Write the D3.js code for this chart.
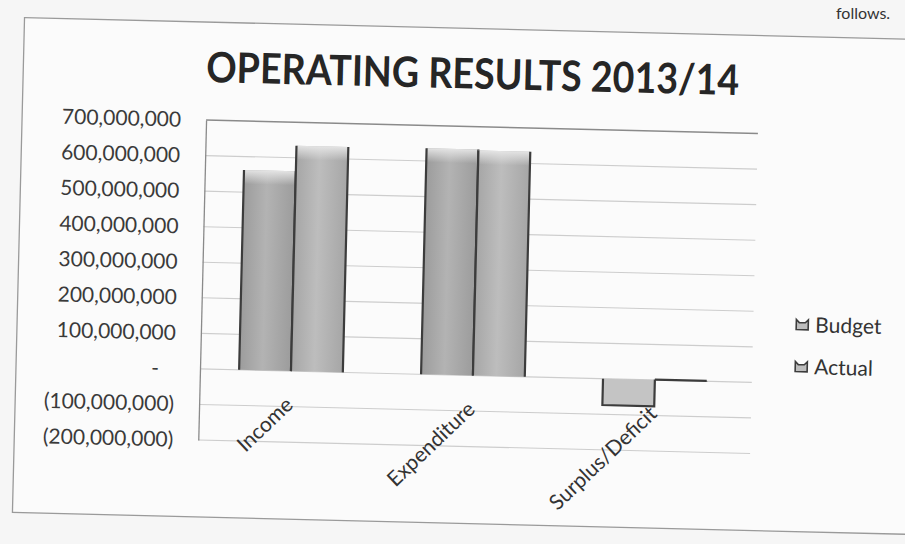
<!DOCTYPE html>
<html><head><meta charset="utf-8">
<script src="https://cdn.jsdelivr.net/npm/d3@7"></script>
<style>
html,body{margin:0;padding:0;background:#f5f5f5;}
svg{display:block;}
text{font-family:Lato,"Open Sans",sans-serif;}
</style></head><body>
<svg id="chart" width="905" height="544"></svg>
<script>
// ---- data ----
const categories = ["Income", "Expenditure", "Surplus/Deficit"];
const seriesNames = ["Budget", "Actual"];
const budget = [562000000, 636000000, -74000000];
const actual = [634000000, 633000000, 1000000];
const tickValues = [-200000000, -100000000, 0, 100000000, 200000000, 300000000, 400000000, 500000000, 600000000, 700000000];
const tickLabels = ["(200,000,000)", "(100,000,000)", "-", "100,000,000", "200,000,000", "300,000,000", "400,000,000", "500,000,000", "600,000,000", "700,000,000"];
const titleText = "OPERATING RESULTS 2013/14";

// ---- setup ----
const svg = d3.select("#chart");
const W = 905, H = 544;
svg.append("rect").attr("width", W).attr("height", H).attr("fill", "#f6f6f6");

const defs = svg.append("defs");
function hGrad(id, edge, mid) {
  const g = defs.append("linearGradient").attr("id", id).attr("x1", 0).attr("x2", 1).attr("y1", 0).attr("y2", 0);
  g.append("stop").attr("offset", "0%").attr("stop-color", edge);
  g.append("stop").attr("offset", "45%").attr("stop-color", mid);
  g.append("stop").attr("offset", "100%").attr("stop-color", edge);
}
hGrad("gBudget", "#9c9c9c", "#b3b3b3");
hGrad("gActual", "#a6a6a6", "#bdbdbd");
const tg = defs.append("linearGradient").attr("id", "gTop").attr("x1", 0).attr("x2", 0).attr("y1", 0).attr("y2", 1);
tg.append("stop").attr("offset", "0%").attr("stop-color", "#e6e6e6").attr("stop-opacity", 0.95);
tg.append("stop").attr("offset", "100%").attr("stop-color", "#e6e6e6").attr("stop-opacity", 0);

// document text fragment above the chart (scan)
svg.append("text").attr("x", 836).attr("y", 19).attr("font-size", 16).attr("fill", "#333").text("follows.");

const root = svg.append("g").attr("transform", "rotate(1.4,200,369)");

// outer chart frame
root.append("rect").attr("x", 16).attr("y", 22).attr("width", 1000).attr("height", 495)
  .attr("fill", "#fbfbfb").attr("stroke", "#9a9a9a").attr("stroke-width", 1.3);

// title
root.append("text").attr("x", 199).attr("y", 82)
  .attr("font-size", 42).attr("font-weight", 700).attr("fill", "#262626")
  .attr("textLength", 533).attr("lengthAdjust", "spacingAndGlyphs")
  .text(titleText);

// scales
const plotL = 200, plotR = 746, plotT = 120, plotB = 440;
const y = d3.scaleLinear().domain([-200000000, 700000000]).range([plotB, plotT]);
const x0 = d3.scaleBand().domain(categories).range([plotL, plotR]).paddingInner(0.43).paddingOuter(0.215);
const x1 = d3.scaleBand().domain(seriesNames).range([0, x0.bandwidth()]).padding(0);

// gridlines
root.append("g").selectAll("line").data(tickValues).join("line")
  .attr("x1", plotL).attr("x2", plotR + 6)
  .attr("y1", d => y(d)).attr("y2", d => y(d))
  .attr("stroke", d => d === 700000000 ? "#8a8a8a" : "#cdcdcd")
  .attr("stroke-width", d => d === 700000000 ? 1.4 : 1.1);

// y axis via d3 axis
const yAxis = d3.axisLeft(y).tickValues(tickValues)
  .tickFormat(d => tickLabels[tickValues.indexOf(d)]).tickSize(0).tickPadding(25);
const ya = root.append("g").attr("transform", `translate(${plotL},0)`).call(yAxis);
ya.select(".domain").attr("stroke", "#8a8a8a").attr("stroke-width", 1.3);
ya.selectAll("text").attr("font-size", 21).attr("fill", "#3a3a3a").attr("font-family", "Lato, sans-serif")
  .attr("dx", d => d === 0 ? -16 : 0);

// bars
const rows = categories.map((c, i) => ({cat: c, vals: [
  {s: "Budget", v: budget[i]}, {s: "Actual", v: actual[i]}]}));
const groups = root.append("g").selectAll("g").data(rows).join("g")
  .attr("transform", d => `translate(${x0(d.cat)},0)`);
const bars = groups.selectAll("g").data(d => d.vals).join("g");
bars.append("rect")
  .attr("x", d => x1(d.s)).attr("width", x1.bandwidth())
  .attr("y", d => Math.min(y(d.v), y(0)))
  .attr("height", d => Math.abs(y(d.v) - y(0)))
  .attr("fill", d => d.v < 0 ? "#c4c4c4" : (d.s === "Budget" ? "url(#gBudget)" : "url(#gActual)"));
bars.filter(d => d.v > 0).append("rect")
  .attr("x", d => x1(d.s)).attr("width", x1.bandwidth())
  .attr("y", d => y(d.v)).attr("height", d => Math.min(14, y(0) - y(d.v)))
  .attr("fill", "url(#gTop)");
// dark side edges
bars.append("path")
  .attr("d", d => {
    const xa = x1(d.s), xb = x1(d.s) + x1.bandwidth(), yv = y(d.v), y0 = y(0);
    if (d.v < 0) return `M${xa},${y0}V${yv}H${xb}V${y0}`;
    return `M${xa},${yv}V${y0}M${xb},${yv}V${y0}`;
  })
  .attr("fill", "none").attr("stroke", "#3c3c3c").attr("stroke-width", 2.2);
// tiny (near-zero) bars shown as a dark line
bars.filter(d => Math.abs(y(d.v) - y(0)) < 3).append("line")
  .attr("x1", d => x1(d.s)).attr("x2", d => x1(d.s) + x1.bandwidth())
  .attr("y1", d => y(d.v)).attr("y2", d => y(d.v))
  .attr("stroke", "#3c3c3c").attr("stroke-width", 2.2);

// category labels (rotated)
root.append("g").selectAll("text").data(categories).join("text")
  .attr("transform", d => `translate(${x0(d) + x0.bandwidth() / 2 - 1},${y(0) + 30}) rotate(-45)`)
  .attr("text-anchor", "end").attr("dy", "0.35em")
  .attr("font-size", 21).attr("fill", "#333")
  .text(d => d);

// legend
const lg = root.append("g").attr("transform", "translate(795,310)");
const li = lg.selectAll("g").data(seriesNames).join("g")
  .attr("transform", (d, i) => `translate(0,${i * 42})`);
li.append("path").attr("d", "M0,-5V5H12V-5L9,-2H3Z")
  .attr("fill", "#bdbdbd").attr("stroke", "#3c3c3c").attr("stroke-width", 1.6);
li.append("text").attr("x", 19).attr("dy", "0.35em").attr("font-size", 21).attr("fill", "#333")
  .text(d => d);
</script>
</body></html>
